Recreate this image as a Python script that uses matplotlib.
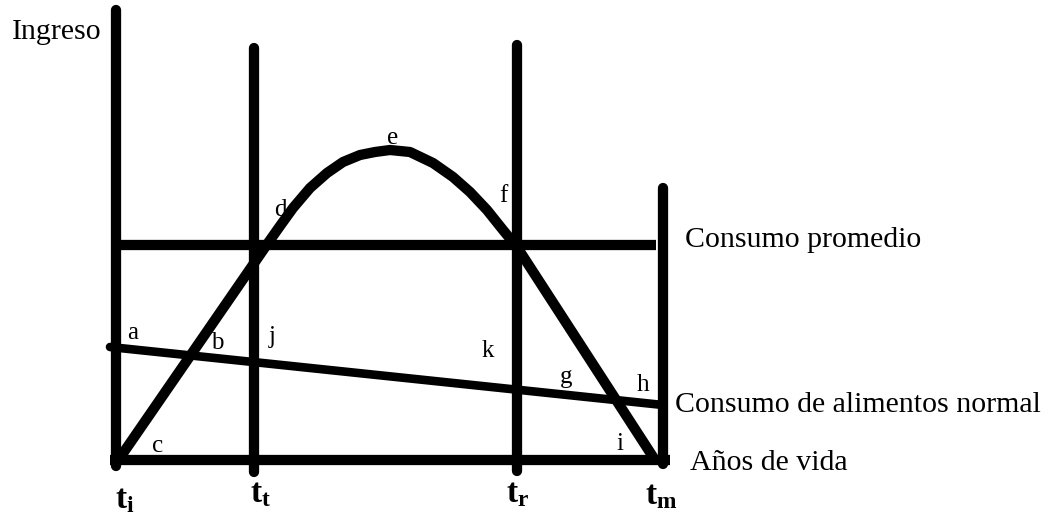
"""Ciclo de vida: ingreso vs consumo"""

import matplotlib.pyplot as plt

plt.rcParams['font.family'] = 'Liberation Serif'
plt.rcParams['mathtext.fontset'] = 'custom'
plt.rcParams['mathtext.rm'] = 'Liberation Serif'
plt.rcParams['mathtext.bf'] = 'Liberation Serif:bold'
plt.rcParams['mathtext.it'] = 'Liberation Serif:italic'

# time marks on the age axis (drawing units)
t_names = [r'$\mathbf{t_i}$', r'$\mathbf{t_t}$', r'$\mathbf{t_r}$', r'$\mathbf{t_m}$']
t_pos = [116, 254, 517, 663]
t_top = [10, 48, 45, 188]
t_bottom = [466, 472, 471, 464]

# levels (y grows downward, like the drawing)
base_level = 460
base_span = [110, 670]
avg_level = 245
avg_span = [117, 656]
food_x = [110, 663]
food_y = [347, 405]

# income curve
income_x = [117, 268, 280, 293, 310, 327, 343, 360, 375, 390, 410, 433, 453, 470, 487, 503, 517, 655]
income_y = [462, 243, 226, 208, 188, 173, 162, 155, 152, 150, 152, 163, 177, 192, 210, 230, 247, 460]

# point letters
pt_names = ['a', 'b', 'c', 'd', 'e', 'f', 'g', 'h', 'i', 'j', 'k']
pt_x = [133, 217, 158, 280, 393, 503, 566, 643, 620, 272, 488]
pt_y = [333, 343, 446, 210, 138, 196, 377, 385, 444, 337, 351]

fig = plt.figure(figsize=(10.49, 5.21), dpi=100)
ax = fig.add_axes([0, 0, 1, 1])
ax.set_xlim(0, 1049)
ax.set_ylim(521, 0)
ax.axis('off')

lw = 7.4
for x, y0, y1 in zip(t_pos, t_top, t_bottom):
    ax.plot([x, x], [y0, y1], color='black', lw=lw, solid_capstyle='round')

ax.plot(base_span, [base_level, base_level], color='black', lw=lw, solid_capstyle='butt')
ax.plot(avg_span, [avg_level, avg_level], color='black', lw=lw, solid_capstyle='butt')
ax.plot(food_x, food_y, color='black', lw=6.2, solid_capstyle='round')
ax.plot(income_x, income_y, color='black', lw=lw, solid_capstyle='butt',
        solid_joinstyle='round')

for name, x, y in zip(pt_names, pt_x, pt_y):
    ax.text(x, y, name, fontsize=18, ha='center', va='center')

ax.text(12, 32, 'Ingreso', fontsize=21.5, ha='left', va='center')
ax.text(685, 240, 'Consumo promedio', fontsize=21.5, ha='left', va='center')
ax.text(675, 405, 'Consumo de alimentos normal', fontsize=21.5, ha='left', va='center')
ax.text(690, 463, 'Años de vida', fontsize=21.5, ha='left', va='center')

t_label_x = [125, 261, 518, 661]
t_label_y = [500, 494, 494, 496]
for name, x, y in zip(t_names, t_label_x, t_label_y):
    ax.text(x, y, name, fontsize=24, ha='center', va='center')

fig.savefig('out.png', dpi=100)
